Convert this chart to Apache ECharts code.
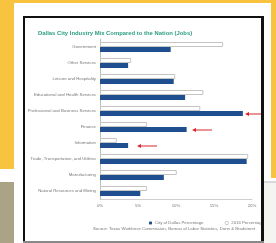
<!doctype html>
<html>
<head>
<meta charset="utf-8">
<title>Dallas City Industry Mix</title>
<script src="https://cdn.jsdelivr.net/npm/echarts@6/dist/echarts.min.js"></script>
<style>
html,body{margin:0;padding:0;background:#fff;}
#chart{width:276px;height:243px;}
</style>
</head>
<body>
<div id="chart"></div>
<script>
var industries = ['Government','Other Services','Leisure and Hospitality','Educational and Health Services',
	'Professional and Business Services','Finance','Information','Trade, Transportation, and Utilities',
	'Manufacturing','Natural Resources and Mining'];
var nationPct = [16.2, 4.1, 9.9, 13.6, 13.2, 6.2, 2.2, 19.5, 10.1, 6.2];
var dallasPct = [9.3, 3.7, 9.7, 11.2, 18.8, 11.4, 3.7, 19.3, 8.4, 5.3];
var xTicks = [0, 5, 10, 15, 20];

var font = 'Liberation Sans, Arial, sans-serif';
var chart = echarts.init(document.getElementById('chart'));

// red arrows pointing at the bars (annotation)
function arrow(x, y, len){
	return [
		{type:'line', z:50, shape:{x1:x+2, y1:y, x2:x+len, y2:y}, style:{stroke:'#d9262c', lineWidth:1}},
		{type:'polygon', z:50, shape:{points:[[x,y],[x+4,y-2],[x+4,y+2]]}, style:{fill:'#d9262c'}}
	];
}

var frame = [
	// photo surroundings
	{type:'rect', z:100, shape:{x:0,y:0,width:14,height:169}, style:{fill:'#f8c33e'}},
	{type:'rect', z:100, shape:{x:0,y:182,width:14,height:61}, style:{fill:'#aaa386'}},
	{type:'rect', z:100, shape:{x:0,y:0,width:276,height:3}, style:{fill:'#f8c33e'}},
	{type:'rect', z:100, shape:{x:271,y:0,width:5,height:178}, style:{fill:'#f8c33e'}},
	{type:'rect', z:100, shape:{x:264,y:182,width:12,height:61}, style:{fill:'#f4f4f2'}},
	{type:'line', z:100, shape:{x1:264,y1:182,x2:276,y2:182}, style:{stroke:'#b9b9b9', lineWidth:1}},
	// black slide border
	{type:'rect', z:100, shape:{x:23,y:16,width:2,height:227}, style:{fill:'#111'}},
	{type:'rect', z:100, shape:{x:23,y:16,width:241,height:2}, style:{fill:'#111'}},
	{type:'rect', z:100, shape:{x:261,y:16,width:3,height:227}, style:{fill:'#111'}},
	{type:'rect', z:100, shape:{x:23,y:241,width:241,height:2}, style:{fill:'#888'}},
	// source note
	{type:'text', z:40, left:93, top:227, style:{text:'Source: Texas Workforce Commission, Bureau of Labor Statistics, Dunn & Bradstreet',
		fill:'#777', font:'4.3px ' + font}}
];

var legendText = {color:'#777', fontSize:4.3, fontFamily:font, padding:[0,0,0,-2]};

var option = {
	animation:false,
	backgroundColor:'#fff',
	title:{
		text:'Dallas City Industry Mix Compared to the Nation (Jobs)',
		left:33, top:25,
		textStyle:{color:'#2c9c82', fontSize:5.9, fontWeight:'bold', fontFamily:font}
	},
	legend:[
		{
			left:144, top:216, itemWidth:3, itemHeight:3,
			textStyle:legendText,
			data:[{name:'City of Dallas Percentage'}]
		},
		{
			left:220, top:216, itemWidth:3, itemHeight:3,
			textStyle:legendText,
			data:[{name:'2016 Percentage', itemStyle:{color:'#fff', borderColor:'#999', borderWidth:0.5}}]
		}
	],
	grid:{left:100, top:39, right:24, height:160},
	xAxis:{
		type:'value', min:xTicks[0], max:xTicks[xTicks.length-1], interval:xTicks[1]-xTicks[0],
		axisLine:{show:true, lineStyle:{color:'#cfcfcf', width:1}},
		axisTick:{show:false},
		splitLine:{show:false},
		axisLabel:{color:'#777', fontSize:4.3, fontFamily:font, margin:5, formatter:'{value}%'}
	},
	yAxis:{
		type:'category', inverse:true, data:industries,
		axisLine:{lineStyle:{color:'#bdbdbd', width:1}},
		axisTick:{alignWithLabel:true, length:3, lineStyle:{color:'#bdbdbd'}},
		axisLabel:{color:'#777', fontSize:4.3, fontFamily:font, margin:4}
	},
	series:[
		{
			name:'2016 Percentage', type:'bar', data:nationPct,
			barWidth:5, barGap:'0%',
			itemStyle:{color:'#fff', borderColor:'#c4c4c4', borderWidth:1}
		},
		{
			name:'City of Dallas Percentage', type:'bar', data:dallasPct,
			barWidth:5, barGap:'0%',
			itemStyle:{color:'#1f4f8f'}
		}
	],
	graphic:frame.concat(arrow(245,114,18), arrow(192,130,20), arrow(137,146,20))
};
chart.setOption(option);
</script>
</body>
</html>
